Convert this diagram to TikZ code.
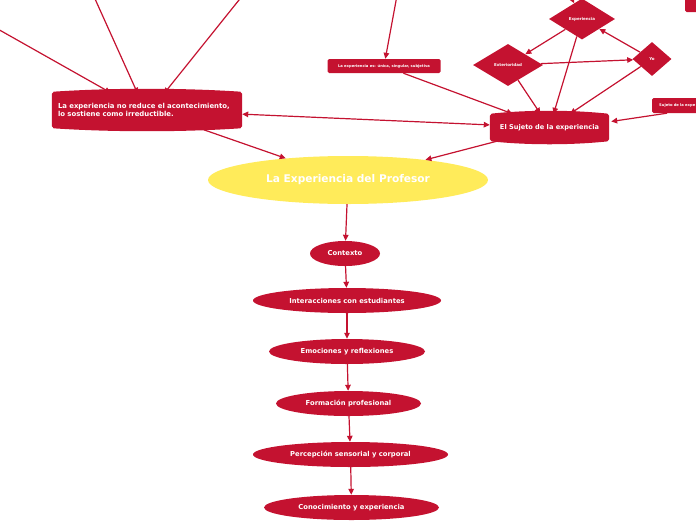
\documentclass[tikz,border=0pt]{standalone}
\usepackage{fontspec}
\setmainfont{DejaVu Sans}
\usetikzlibrary{shapes.geometric,arrows.meta,backgrounds,calc}
\definecolor{crim}{HTML}{C41230}
\definecolor{yel}{HTML}{FFEB5A}
\begin{document}
\begin{tikzpicture}[x=1pt,y=-1pt,
  conn/.style={draw=crim,line width=1.2pt,-{Triangle[length=6pt,width=5.5pt]}},
  bconn/.style={draw=crim,line width=1.2pt,{Triangle[length=6pt,width=5.5pt]}-{Triangle[length=6pt,width=5.5pt]}},
  chainnode/.style={ellipse,fill=crim,text=white,font=\bfseries\fontsize{6.8}{8}\selectfont,inner sep=0pt,minimum height=25pt},
  dia/.style={diamond,fill=crim,text=white,font=\bfseries\fontsize{4}{5}\selectfont,inner sep=0pt},
  smallbox/.style={rectangle,rounded corners=1.5pt,fill=crim,text=white,font=\bfseries\fontsize{3.7}{4.5}\selectfont,inner sep=0pt},
  barrel/.style={rectangle,text=white,inner sep=0pt}
]
\useasboundingbox (0,0) rectangle (696,520);

% main
\node[ellipse,fill=yel,text=white,font=\bfseries\fontsize{10.6}{12}\selectfont,minimum width=280pt,minimum height=48pt,inner sep=0pt] (main) at (348,180) {La Experiencia del Profesor};

% barrel nodes
\node[barrel,minimum width=190pt,minimum height=36pt,font=\bfseries\fontsize{6.9}{8.2}\selectfont,text width=178pt,align=left] (reduce) at (147,110) {La experiencia no reduce el acontecimiento,\\lo sostiene como irreductible.};
\node[barrel,minimum width=119pt,minimum height=27pt,font=\bfseries\fontsize{6.6}{7.5}\selectfont] (sujeto) at (549.5,127.5) {El Sujeto de la experiencia};
\begin{scope}[on background layer]
\foreach \n/\c in {reduce/60,sujeto/38}{
  \fill[crim,rounded corners=2pt] (\n.north west) .. controls +(\c,-4) and +(-\c,-4) .. (\n.north east) -- (\n.south east) .. controls +(-\c,4) and +(\c,4) .. (\n.south west) -- cycle;
}
\end{scope}

% small boxes
\node[smallbox,minimum width=113pt,minimum height=14pt] (unica) at (384,66) {La experiencia es: única, singular, subjetiva};
\node[smallbox,anchor=west,minimum height=15pt,minimum width=60pt,inner xsep=7pt,text width=46pt,align=left] (sde) at (652,105.5) {Sujeto de la expe};
\node[smallbox,anchor=north west,minimum width=20pt,minimum height=16pt] (topbox) at (685,-4) {};

% diamonds
\node[dia,minimum width=70pt,minimum height=42pt,aspect=1.67] (ext) at (508,65) {Exterioridad};
\node[dia,minimum width=66pt,minimum height=41pt,aspect=1.6] (exper) at (582,19) {Experiencia};
\node[dia,minimum width=39pt,minimum height=34pt,aspect=1.15] (yo) at (652,59) {Yo};

% chain
\node[chainnode,minimum width=70pt] (ctx) at (345,253.5) {Contexto};
\node[chainnode,minimum width=188pt] (inter) at (347,300.5) {Interacciones con estudiantes};
\node[chainnode,minimum width=156pt] (emo) at (347,351.5) {Emociones y reflexiones};
\node[chainnode,minimum width=145pt] (form) at (348.5,403.5) {Formación profesional};
\node[chainnode,minimum width=195pt] (perc) at (350.5,454.5) {Percepción sensorial y corporal};
\node[chainnode,minimum width=175pt] (con) at (351.5,507.5) {Conocimiento y experiencia};

% off-canvas sources
\coordinate (s1) at (-20,19);
\coordinate (s2) at (91,-10);
\coordinate (s3) at (247,-10);
\coordinate (s4) at (398,-10);
\coordinate (s5) at (568,-9);

% connectors
\draw[conn] (s1) -- ([xshift=59pt,yshift=-1pt]reduce.north west);
\draw[conn] (s2) -- ([xshift=86pt,yshift=-2pt]reduce.north west);
\draw[conn] (s3) -- ([xshift=112pt,yshift=-2pt]reduce.north west);
\draw[conn] (s4) -- (unica);
\draw[conn] (s5) -- (exper);
\draw[conn] (reduce) -- (main);
\draw[conn] (sujeto) -- (main);
\draw[bconn] (reduce) -- (sujeto);
\draw[conn] (unica) -- (sujeto);
\draw[conn] (ext) -- (sujeto);
\draw[conn] (exper) -- (sujeto);
\draw[conn] (yo) -- (sujeto);
\draw[conn] ([xshift=15pt]sde.south west) -- ($(sujeto.east)+(2,-6)$);
\draw[conn] (exper) -- (ext);
\draw[conn] (ext) -- (yo);
\draw[conn] (yo) -- (exper);
\draw[conn] (main) -- (ctx);
\draw[conn] (ctx) -- (inter);
\draw[conn] (inter) -- (emo);
\draw[conn] (emo) -- (form);
\draw[conn] (form) -- (perc);
\draw[conn] (perc) -- (con);
\end{tikzpicture}
\end{document}
